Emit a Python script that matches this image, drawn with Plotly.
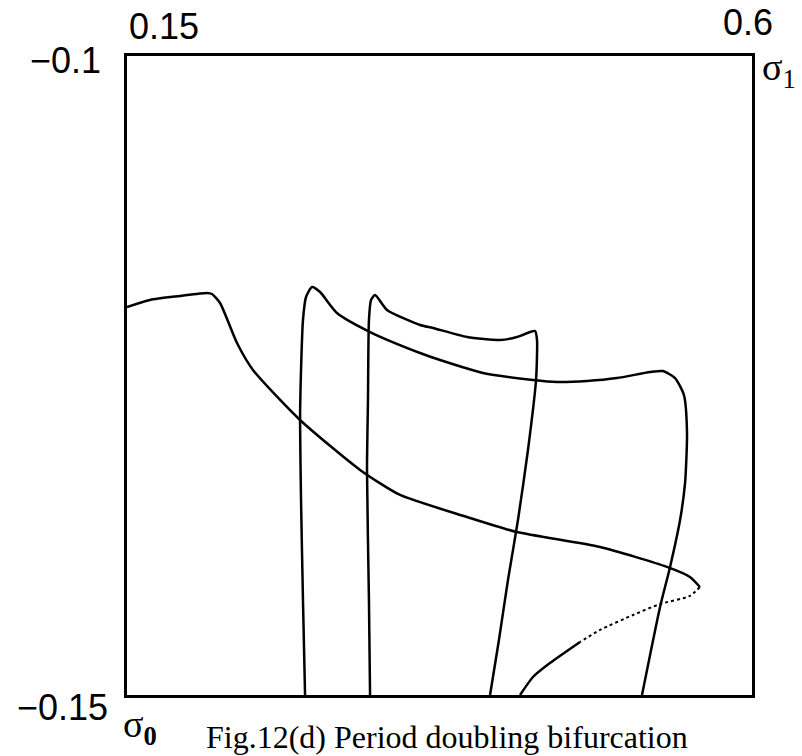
import plotly.graph_objects as go

# Curve A (solid part, from left edge to turning point)
a_x = [0.15, 0.1666, 0.1882, 0.2076, 0.2112, 0.2170, 0.2292, 0.2407, 0.2746, 0.3178,
       0.3466, 0.3948, 0.4308, 0.4906, 0.5388, 0.5553, 0.5625]
a_y = [-0.11964, -0.11909, -0.11878, -0.11854, -0.11862, -0.11933, -0.12246, -0.12457,
       -0.12848, -0.13239, -0.13435, -0.13607, -0.13725, -0.13842, -0.13998, -0.14077, -0.14155]
# Curve A dotted (unstable) branch
ad_x = [0.5625, 0.5553, 0.5338, 0.5143, 0.4906, 0.4762]
ad_y = [-0.14155, -0.14225, -0.14288, -0.14374, -0.14491, -0.14585]
# Curve A lower solid tail
at_x = [0.4762, 0.4545, 0.4423, 0.4330]
at_y = [-0.14585, -0.1475, -0.14859, -0.15]

# Curve B
b_x = [0.2782, 0.2767, 0.2753, 0.2746, 0.2753, 0.2767, 0.2789, 0.2832, 0.2890, 0.3012,
       0.3250, 0.3610, 0.3754, 0.4063, 0.4423, 0.4596, 0.4812, 0.5028, 0.5266, 0.5359,
       0.5446, 0.5510, 0.5532, 0.5518, 0.5482, 0.5410, 0.5338, 0.5208]
b_y = [-0.15, -0.14257, -0.13474, -0.12848, -0.12457, -0.12066, -0.11886, -0.11808,
       -0.11847, -0.12011, -0.12160, -0.12324, -0.12379, -0.12480, -0.12535, -0.12551,
       -0.12543, -0.12520, -0.12473, -0.12465, -0.12520, -0.12653, -0.12950, -0.13341,
       -0.13631, -0.13998, -0.14311, -0.15]

# Curve C
c_x = [0.3250, 0.3242, 0.3228, 0.3235, 0.3242, 0.3257, 0.3286, 0.3372, 0.3610, 0.3703,
       0.3948, 0.4186, 0.4308, 0.4402, 0.4438, 0.4452, 0.4445, 0.4387, 0.4315, 0.4243,
       0.4178, 0.4114]
c_y = [-0.15, -0.14257, -0.13239, -0.12692, -0.12066, -0.11909, -0.11870, -0.11987,
       -0.12105, -0.12128, -0.12199, -0.12222, -0.12199, -0.12160, -0.12152, -0.12222,
       -0.12535, -0.13083, -0.13631, -0.14100, -0.14570, -0.15]

x_range = [0.15, 0.6]
y_range = [-0.15, -0.1]

line = dict(color="black", width=2.5, shape="spline", smoothing=0.6)

fig = go.Figure()
fig.add_trace(go.Scatter(x=a_x, y=a_y, mode="lines", line=line))
fig.add_trace(go.Scatter(x=ad_x, y=ad_y, mode="lines",
                         line=dict(color="black", width=2, dash="dot", shape="spline", smoothing=0.6)))
fig.add_trace(go.Scatter(x=at_x, y=at_y, mode="lines", line=line))
fig.add_trace(go.Scatter(x=b_x, y=b_y, mode="lines", line=line))
fig.add_trace(go.Scatter(x=c_x, y=c_y, mode="lines", line=line))

sans = dict(family="Liberation Sans, Arial, sans-serif", size=36, color="black")
serif = dict(family="Liberation Serif, Times New Roman, serif", size=38, color="black")

ann = [
    dict(text="0.15", x=0.0592, y=1.0454, xanchor="center", yanchor="middle", font=sans),
    dict(text="0.6", x=0.9936, y=1.0532, xanchor="center", yanchor="middle", font=sans),
    dict(text="−0.1", x=-0.0384, y=0.9937, xanchor="right", yanchor="middle", font=sans),
    dict(text="−0.15", x=-0.0272, y=-0.0203, xanchor="right", yanchor="middle", font=sans),
    dict(text="σ<sub>1</sub>", x=1.012, y=0.978, xanchor="left", yanchor="middle", font=serif),
    dict(text="σ<sub><b>0</b></sub>", x=-0.01, y=-0.050, xanchor="left", yanchor="middle", font=serif),
    dict(text="Fig.12(d) Period doubling bifurcation", x=0.512, y=-0.066,
         xanchor="center", yanchor="middle",
         font=dict(family="Liberation Serif, Times New Roman, serif", size=32, color="black")),
]
for a in ann:
    a.update(xref="paper", yref="paper", showarrow=False)

fig.update_layout(
    width=802, height=756,
    margin=dict(l=127, r=50, t=56, b=61),
    paper_bgcolor="white", plot_bgcolor="white",
    showlegend=False,
    annotations=ann,
    xaxis=dict(range=x_range, showgrid=False, zeroline=False, showticklabels=False,
               ticks="", showline=True, linecolor="black", linewidth=2.5, mirror=True),
    yaxis=dict(range=y_range, showgrid=False, zeroline=False, showticklabels=False,
               ticks="", showline=True, linecolor="black", linewidth=2.5, mirror=True),
)

fig.write_html("out.html")
